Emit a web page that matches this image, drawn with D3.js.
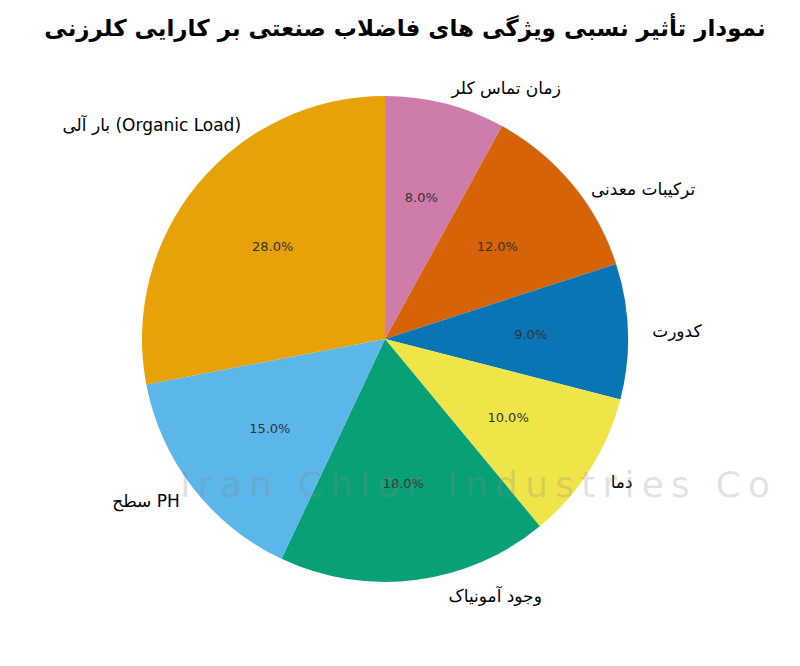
<!DOCTYPE html>
<html><head><meta charset="utf-8">
<script src="https://cdn.jsdelivr.net/npm/d3@7"></script>
<style>body{margin:0;background:#fff}</style>
</head><body>
<script>
// data in counterclockwise order starting at top
var labels = ["بار آلی (Organic Load)", "سطح PH", "وجود آمونیاک", "دما", "کدورت", "ترکیبات معدنی", "زمان تماس کلر"];
var values = [28, 15, 18, 10, 9, 12, 8];
var colors = ["#E69F00", "#56B4E9", "#009E73", "#F0E442", "#0072B2", "#D55E00", "#CC79A7"];
// small nudges of the outer labels
var nudge = [[62, -44], [6, -2], [30, -8], [0, 0], [0, 0], [0, 20], [0, 8]];

var width = 800, height = 666, cx = 385, cy = 339, r = 243;
var svg = d3.select("body").append("svg").attr("width", width).attr("height", height)
  .style("font-family", "DejaVu Sans");

svg.append("text").attr("x", 405).attr("y", 36).attr("text-anchor", "middle")
  .attr("font-size", 23).attr("font-weight", "bold").attr("direction", "rtl")
  .text("نمودار تأثیر نسبی ویژگی های فاضلاب صنعتی بر کارایی کلرزنی");

// d3 goes clockwise, so reverse to get counterclockwise order
var data = labels.map(function(d, i){ return {label: d, value: values[i], color: colors[i], nudge: nudge[i]}; }).reverse();
var pie = d3.pie().value(function(d){ return d.value; }).sort(null);
var arcs = pie(data);
var arc = d3.arc().innerRadius(0).outerRadius(r);
var g = svg.append("g").attr("transform", "translate(" + cx + "," + cy + ")");
function mid(d){ return (d.startAngle + d.endAngle) / 2; }

g.selectAll("path").data(arcs).enter().append("path")
  .attr("d", arc).attr("fill", function(d){ return d.data.color; }).attr("fill-opacity", 0.97);

g.selectAll(".pct").data(arcs).enter().append("text")
  .attr("x", function(d){ return Math.sin(mid(d)) * r * 0.6; })
  .attr("y", function(d){ return -Math.cos(mid(d)) * r * 0.6; })
  .attr("dy", "0.35em").attr("text-anchor", "middle").attr("font-size", 13).attr("fill", "#333")
  .text(function(d){ return d.data.value.toFixed(1) + "%"; });

g.selectAll(".lbl").data(arcs).enter().append("text")
  .attr("x", function(d){ return Math.sin(mid(d)) * r * 1.1 + d.data.nudge[0]; })
  .attr("y", function(d){ return -Math.cos(mid(d)) * r * 1.1 + d.data.nudge[1]; })
  .attr("dy", "0.35em").attr("font-size", 17)
  .attr("text-anchor", function(d){ return Math.sin(mid(d)) > 0 ? "start" : "end"; })
  .text(function(d){ return d.data.label; });

// watermark
svg.append("text").attr("x", 180).attr("y", 497)
  .attr("textLength", 590).attr("lengthAdjust", "spacing")
  .attr("font-size", 36).attr("fill", "#888").attr("fill-opacity", 0.25)
  .text("Iran Chlor Industries Co");
</script>
</body></html>
